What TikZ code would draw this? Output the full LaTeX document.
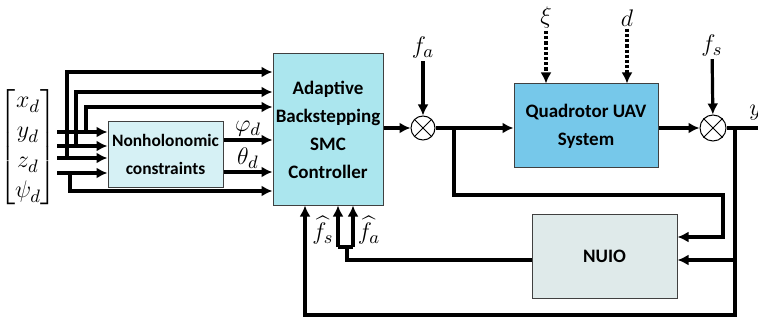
\documentclass[tikz,border=0pt]{standalone}
\usepackage{amsmath}
\usepackage{fontspec}
\setsansfont{Carlito}
\usepackage{tikz}
\usetikzlibrary{arrows.meta,positioning}
\definecolor{ctrlblue}{HTML}{ABE6EE}
\definecolor{nhblue}{HTML}{D6F1F5}
\definecolor{plant}{HTML}{76C8EA}
\definecolor{obsgray}{HTML}{DFEAEA}

\begin{document}
\begin{tikzpicture}[x=0.5pt,y=-0.5pt,
  n/.style={rectangle,draw=black!75,line width=0.5pt,align=center,inner sep=0pt,font=\sffamily\bfseries\fontsize{9.5}{14}\selectfont},
  a/.style={-{Latex[length=5.5pt,width=5.5pt]},line width=1.6pt},
  l/.style={line width=1.6pt},
  sum/.style={circle,draw,line width=0.5pt,minimum size=12pt,inner sep=0pt},
  lab/.style={font=\fontsize{13}{15}\selectfont,inner sep=1pt}
]
\useasboundingbox (0,0) rectangle (758,320);

% blocks
\node[n,fill=ctrlblue,minimum width=55pt,minimum height=75.5pt] (ctrl) at (328,129.5) {Adaptive\\Backstepping\\SMC\\Controller};
\node[n,fill=nhblue,minimum width=57.5pt,minimum height=32.5pt,font=\sffamily\bfseries\fontsize{8.7}{14}\selectfont] (nh) at (165.5,154.5) {Nonholonomic\\constraints};
\node[n,fill=plant,minimum width=72pt,minimum height=42pt] (quad) at (586,126) {Quadrotor UAV\\System};
\node[n,fill=obsgray,minimum width=72.5pt,minimum height=42pt] (nuio) at (604.5,256) {NUIO};
\node[sum] (s1) at (423,128) {};
\node[sum,minimum size=13pt] (s2) at (713,128) {};
\draw[line width=0.5pt] (s1.north west) -- (s1.south east) (s1.north east) -- (s1.south west);
\draw[line width=0.5pt] (s2.north west) -- (s2.south east) (s2.north east) -- (s2.south west);

% reference vector
\node[lab,inner sep=0pt] (vec) at (28,147) {$\begin{bmatrix}x_d\\y_d\\z_d\\\psi_d\end{bmatrix}$};
\foreach \y in {132,146,158,173}
  \draw[a] (vec.east |- 0,\y) -- (nh.west |- 0,\y);
\coordinate (b1) at (86,132);
\coordinate (b2) at (76,146);
\coordinate (b3) at (67,158);
\coordinate (b4) at (70,173);
\draw[a] (b1) |- (ctrl.west |- 0,107);
\draw[a] (b2) |- (ctrl.west |- 0,92);
\draw[a] (b3) |- (ctrl.west |- 0,72);
\draw[a] (b4) |- (ctrl.west |- 0,191);
\draw[a] (nh.east |- 0,140) -- node[lab,above]{$\varphi_d$} (ctrl.west |- 0,140);
\draw[a] (nh.east |- 0,172) -- node[lab,above]{$\theta_d$} (ctrl.west |- 0,172);

% forward path
\draw[a] (ctrl.east |- s1.west) -- (s1.west);
\draw[a] (s1.east) -- (quad.west |- s1.east);
\draw[a] (quad.east |- s2.west) -- (s2.west);
\coordinate (yout) at (758,128);
\draw[l] (s2.east) -- (yout);
\node[lab,anchor=west] (ylab) at (747,113) {$y$};

% faults and disturbances
\node[lab] (fa) at (423,48) {$f_a$};
\draw[a] (fa) -- (s1);
\node[lab] (fs) at (712,46) {$f_s$};
\draw[a] (fs) -- (s2);
\node[lab] (xi) at (546,18) {$\xi$};
\draw[a,densely dotted] (xi) -- (xi |- quad.north);
\node[lab] (dd) at (627,18) {$d$};
\draw[a,densely dotted] (dd) -- (dd |- quad.north);

% observer loop
\coordinate (j1) at (454,128);
\coordinate (c1) at (723,195);
\draw[a] (j1) |- (c1) |- (nuio.east |- 0,237);
\coordinate (j2) at (735,128);
\coordinate (j3) at (735,260);
\coordinate (c2) at (305,315);
\draw[a] (j2) |- (c2) -- (c2 |- ctrl.south);
\draw[a] (j3) -- (nuio.east |- j3);
\coordinate (t) at (347,247);
\coordinate (tL) at (338,247);
\coordinate (tR) at (353,247);
\draw[l] (nuio.west |- j3) -| (t);
\draw[l] (tL) -- (tR);
\draw[a] (tL) -- (tL |- ctrl.south);
\draw[a] (tR) -- (tR |- ctrl.south);
\node[lab] (fhs) at (323,230) {$\widehat{f}_s$};
\node[lab] (fha) at (369,230) {$\widehat{f}_a$};
\end{tikzpicture}
\end{document}
